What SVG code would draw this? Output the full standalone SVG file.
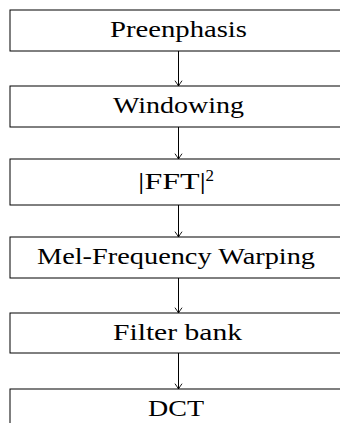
<svg xmlns="http://www.w3.org/2000/svg" width="340" height="423" viewBox="0 0 340 423">
<defs>
<style>
.box{fill:#fff;stroke:#000;stroke-width:1}
.lbl{font-family:"Liberation Serif","Times New Roman",serif;font-size:23px;fill:#000;text-anchor:middle}
.sup{font-family:"Liberation Serif","Times New Roman",serif;font-size:17px;fill:#000}
.conn{stroke:#000;stroke-width:1;fill:none;marker-end:url(#arr)}
</style>
<marker id="arr" markerUnits="userSpaceOnUse" markerWidth="10" markerHeight="10" viewBox="-6 -5 7 10" refX="0" refY="0" orient="auto" overflow="visible">
<path d="M-5,-3.3 Q-1.5,-0.8 0,0 Q-1.5,0.8 -5,3.3" fill="none" stroke="#000" stroke-width="0.9" stroke-linecap="round"/>
</marker>
</defs>
<g id="preemphasis"><rect class="box" x="10" y="10" width="337" height="41"/><text class="lbl" x="178.5" y="36.7" textLength="137" lengthAdjust="spacingAndGlyphs">Preenphasis</text></g>
<g id="windowing"><rect class="box" x="10" y="86" width="337" height="41"/><text class="lbl" x="178.5" y="112.7" textLength="131" lengthAdjust="spacingAndGlyphs">Windowing</text></g>
<g id="fft"><rect class="box" x="10" y="159" width="337" height="46"/><text class="lbl" x="172" y="189" textLength="68" lengthAdjust="spacingAndGlyphs">|FFT|</text><text class="sup" x="205.5" y="181">2</text></g>
<g id="mel"><rect class="box" x="10" y="237" width="337" height="41"/><text class="lbl" x="176" y="263.7" textLength="278" lengthAdjust="spacingAndGlyphs">Mel-Frequency Warping</text></g>
<g id="filterbank"><rect class="box" x="10" y="313" width="337" height="40"/><text class="lbl" x="177.5" y="340" textLength="129" lengthAdjust="spacingAndGlyphs">Filter bank</text></g>
<g id="dct"><rect class="box" x="10" y="389" width="337" height="41"/><text class="lbl" x="176" y="416" textLength="56" lengthAdjust="spacingAndGlyphs">DCT</text></g>
<g id="connectors">
<line class="conn" x1="178.5" y1="51" x2="178.5" y2="86"/>
<line class="conn" x1="178.5" y1="127" x2="178.5" y2="159"/>
<line class="conn" x1="178.5" y1="205" x2="178.5" y2="237"/>
<line class="conn" x1="178.5" y1="278" x2="178.5" y2="313"/>
<line class="conn" x1="178.5" y1="353" x2="178.5" y2="389"/>
</g>
</svg>
